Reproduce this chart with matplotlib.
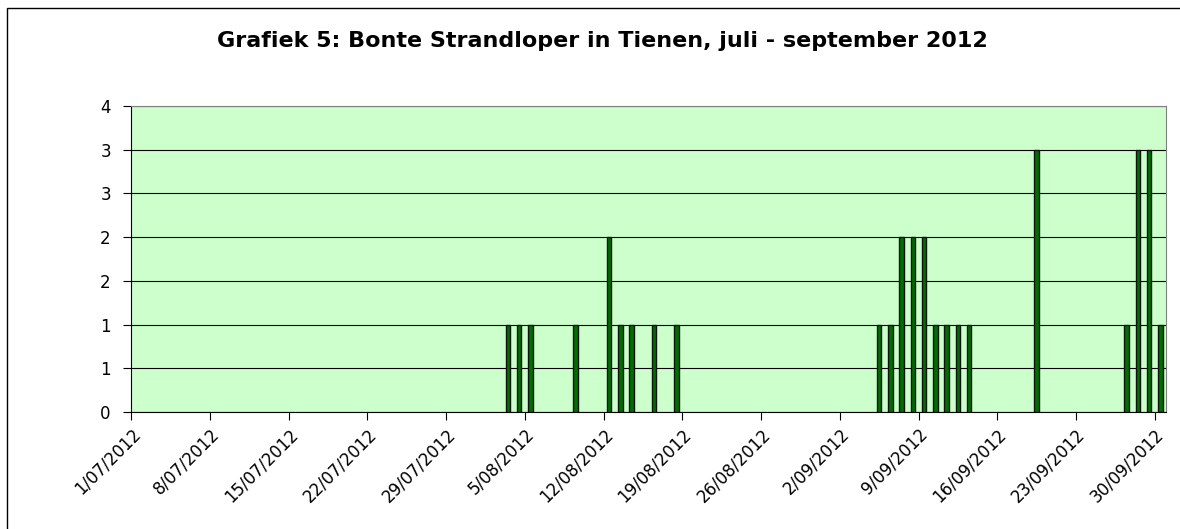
import math
import datetime as dt
import matplotlib
matplotlib.use("Agg")
import matplotlib.pyplot as plt
from matplotlib.patches import Rectangle
from matplotlib.ticker import FuncFormatter, MultipleLocator

plt.rcParams['font.family'] = ['DejaVu Sans']

title = "Grafiek 5: Bonte Strandloper in Tienen, juli - september 2012"

obs_dates = ['2012-08-03', '2012-08-04', '2012-08-05', '2012-08-09', '2012-08-12',
             '2012-08-13', '2012-08-14', '2012-08-16', '2012-08-18',
             '2012-09-05', '2012-09-06', '2012-09-07', '2012-09-08', '2012-09-09',
             '2012-09-10', '2012-09-11', '2012-09-12', '2012-09-13',
             '2012-09-19', '2012-09-27', '2012-09-28', '2012-09-29', '2012-09-30']
counts = [1, 1, 1, 1, 2, 1, 1, 1, 1,
          1, 1, 2, 2, 2, 1, 1, 1, 1,
          3, 1, 3, 3, 1]

start = dt.datetime(2012, 7, 1)
end = dt.datetime(2012, 10, 1)
tick_dates = [start + dt.timedelta(days=7 * i) for i in range(14)]

fig = plt.figure(figsize=(11.8, 5.29), dpi=100)
ax = fig.add_axes([131 / 1180, 1 - 412 / 529, (1166 - 131) / 1180, (412 - 106) / 529])
ax.set_facecolor('#ccffcc')

# bars sit in the middle of their day, like Excel's date axis
x = [dt.datetime.strptime(d, '%Y-%m-%d') + dt.timedelta(hours=12) for d in obs_dates]
ax.bar(x, counts, width=0.42, color='#006f00', edgecolor='#111111', linewidth=1.0, zorder=3)

ax.set_xlim(start, end)
ax.set_ylim(0, 3.5)
ax.yaxis.set_major_locator(MultipleLocator(0.5))
ax.yaxis.set_major_formatter(FuncFormatter(lambda v, p: str(int(math.floor(v + 0.5)))))
ax.grid(axis='y', color='black', linewidth=0.8, zorder=1)

ax.set_xticks(tick_dates)
ax.set_xticklabels([f"{d.day}/{d:%m/%Y}" for d in tick_dates],
                   rotation=45, ha='right', rotation_mode='anchor')

for side in ['left', 'bottom']:
    ax.spines[side].set_color('black')
for side in ['top', 'right']:
    ax.spines[side].set_color('#808080')
ax.tick_params(axis='both', direction='out', length=5.5, width=0.8, labelsize=12, pad=4)
ax.tick_params(axis='y', pad=9)

fig.text(602 / 1180, 1 - 41 / 529, title, ha='center', va='center',
         fontsize=16, fontweight='bold')

fig.patches.append(Rectangle((7 / 1180, -0.1), 1.2, 1 - 8 / 529 + 0.1,
                             transform=fig.transFigure, fill=False,
                             edgecolor='black', linewidth=1))

fig.savefig('out.png', dpi=100)
